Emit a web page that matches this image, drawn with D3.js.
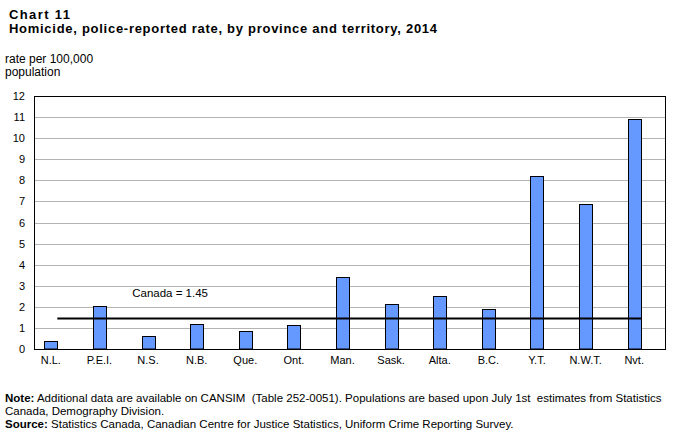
<!DOCTYPE html>
<html>
<head>
<meta charset="utf-8">
<script src="https://cdn.jsdelivr.net/npm/d3@7"></script>
<style>
  body { margin: 0; background: #fff; }
  svg { display: block; font-family: "Liberation Sans", Arial, sans-serif; }
  .pre { white-space: pre; }
</style>
</head>
<body>
<script>
// data
var provinces = ["N.L.", "P.E.I.", "N.S.", "N.B.", "Que.", "Ont.", "Man.", "Sask.", "Alta.", "B.C.", "Y.T.", "N.W.T.", "Nvt."];
var rates = [0.38, 2.05, 0.64, 1.19, 0.85, 1.13, 3.43, 2.13, 2.50, 1.90, 8.22, 6.88, 10.92];
var canadaRate = 1.45;
var yTicks = [0, 1, 2, 3, 4, 5, 6, 7, 8, 9, 10, 11, 12];

var svgWidth = 678;
var svgHeight = 432;
var margin = { top: 96, right: 12, bottom: 83, left: 34 };
var width = svgWidth - margin.left - margin.right;
var height = svgHeight - margin.top - margin.bottom;

var svg = d3.select("body")
  .append("svg")
  .attr("width", svgWidth)
  .attr("height", svgHeight);

// titles
svg.append("text")
  .attr("x", 9).attr("y", 19)
  .attr("font-size", "13px").attr("font-weight", "bold")
  .attr("textLength", 61).attr("lengthAdjust", "spacing")
  .text("Chart 11");
svg.append("text")
  .attr("x", 9).attr("y", 33)
  .attr("font-size", "13px").attr("font-weight", "bold")
  .attr("textLength", 428).attr("lengthAdjust", "spacing")
  .text("Homicide, police-reported rate, by province and territory, 2014");

svg.append("text")
  .attr("x", 5).attr("y", 63)
  .attr("font-size", "12px")
  .text("rate per 100,000");
svg.append("text")
  .attr("x", 5).attr("y", 76)
  .attr("font-size", "12px")
  .text("population");

var chartGroup = svg.append("g")
  .attr("transform", `translate(${margin.left}, ${margin.top})`);

// scales
var xScale = d3.scaleBand()
  .domain(provinces)
  .range([0, width]);

var yScale = d3.scaleLinear()
  .domain([0, 12])
  .range([height, 0]);

// gridlines
chartGroup.append("g")
  .selectAll("line")
  .data(yTicks.slice(1, -1))
  .enter()
  .append("line")
  .attr("x1", 0).attr("x2", width)
  .attr("y1", d => Math.round(yScale(d)) + 0.5)
  .attr("y2", d => Math.round(yScale(d)) + 0.5)
  .attr("stroke", "#b3b3b3")
  .attr("stroke-width", 1);

// y axis labels
var leftAxis = d3.axisLeft(yScale).tickValues(yTicks).tickSize(0).tickPadding(9);
var yAxisG = chartGroup.append("g").call(leftAxis);
yAxisG.select(".domain").remove();
yAxisG.selectAll("text")
  .attr("font-family", "Liberation Sans, Arial, sans-serif")
  .attr("font-size", "11px")
  .attr("fill", "#000");

// x axis labels
var bottomAxis = d3.axisBottom(xScale).tickSize(0).tickPadding(7);
var xAxisG = chartGroup.append("g")
  .attr("transform", `translate(0,${height})`)
  .call(bottomAxis);
xAxisG.select(".domain").remove();
xAxisG.selectAll(".tick")
  .attr("transform", d => `translate(${xScale(d) + xScale.bandwidth() / 2 - 7.5},0)`);
xAxisG.selectAll("text")
  .attr("font-family", "Liberation Sans, Arial, sans-serif")
  .attr("font-size", "11px")
  .attr("fill", "#000");

// bars
var barW = 13;
chartGroup.selectAll(".bar")
  .data(provinces)
  .enter()
  .append("rect")
  .attr("class", "bar")
  .attr("x", d => Math.round(xScale(d) + xScale.bandwidth() / 2 - 14) + 0.5)
  .attr("y", (d, i) => Math.round(yScale(rates[i])) + 0.5)
  .attr("width", barW)
  .attr("height", (d, i) => height - Math.round(yScale(rates[i])) - 0.5)
  .attr("fill", "#6699ff")
  .attr("stroke", "#000")
  .attr("stroke-width", 1);

// Canada average line
var firstC = xScale(provinces[0]) + xScale.bandwidth() / 2;
var lastC = xScale(provinces[provinces.length - 1]) + xScale.bandwidth() / 2;
chartGroup.append("line")
  .attr("x1", firstC - 1).attr("x2", lastC)
  .attr("y1", yScale(canadaRate)).attr("y2", yScale(canadaRate))
  .attr("stroke", "#000")
  .attr("stroke-width", 2);

chartGroup.append("text")
  .attr("x", xScale(provinces[2]) + 1)
  .attr("y", yScale(canadaRate) - 21)
  .attr("font-size", "11.5px")
  .text("Canada = 1.45");

// plot border
chartGroup.append("rect")
  .attr("x", 0.5).attr("y", 0.5)
  .attr("width", width - 1).attr("height", height)
  .attr("fill", "none")
  .attr("stroke", "#000")
  .attr("stroke-width", 1);

// notes
var note = svg.append("text")
  .attr("class", "pre")
  .attr("x", 5).attr("y", 402)
  .attr("font-size", "11.5px");
note.append("tspan").attr("font-weight", "bold").text("Note:");
note.append("tspan").text(" Additional data are available on CANSIM  (Table 252-0051). Populations are based upon July 1st  estimates from Statistics");

svg.append("text")
  .attr("x", 5).attr("y", 415)
  .attr("font-size", "11.5px")
  .text("Canada, Demography Division.");

var src = svg.append("text")
  .attr("x", 5).attr("y", 428)
  .attr("font-size", "11.5px");
src.append("tspan").attr("font-weight", "bold").text("Source:");
src.append("tspan").text(" Statistics Canada, Canadian Centre for Justice Statistics, Uniform Crime Reporting Survey.");
</script>
</body>
</html>
